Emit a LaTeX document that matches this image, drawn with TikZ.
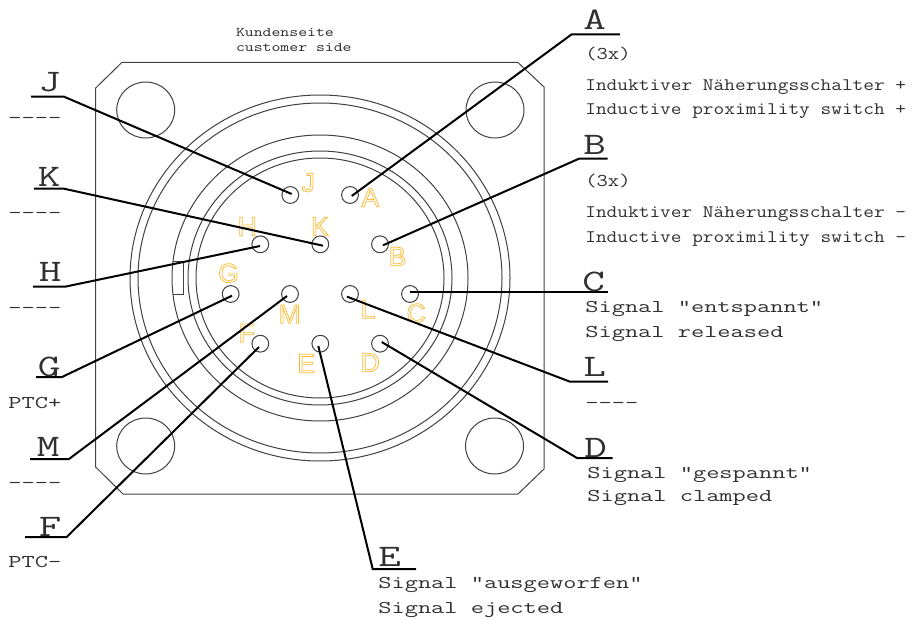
\documentclass[tikz,border=0pt]{standalone}
\usepackage{fontspec}
\newfontfamily\pinfont{Liberation Sans}
\newcommand{\outl}[1]{\special{pdf:code 1 Tr 0.55 w}#1\special{pdf:code 0 Tr 1 w}}
\definecolor{linegray}{HTML}{404040}
\definecolor{txtgray}{HTML}{303030}
\definecolor{pinorange}{HTML}{FFB830}
\tikzset{
  plate/.style={draw=linegray,line width=0.75pt},
  pinnode/.style={circle,draw=linegray,line width=0.75pt,minimum size=12.6pt,inner sep=0pt},
  leader/.style={draw=black,line width=1.5pt},
  biglet/.style={anchor=base west,inner sep=0pt,text=txtgray,font=\ttfamily\fontsize{23.5}{23.5}\selectfont,xscale=1.4,transform shape},
  sigtxt/.style={anchor=base west,inner sep=0pt,text=txtgray,font=\ttfamily\fontsize{13.5}{13.5}\selectfont,xscale=1.425,transform shape},
  indtxt/.style={anchor=base west,inner sep=0pt,text=txtgray,font=\ttfamily\fontsize{13.2}{13.2}\selectfont,xscale=1.18,transform shape},
  multxt/.style={anchor=base west,inner sep=0pt,text=txtgray,font=\ttfamily\fontsize{13.5}{13.5}\selectfont,xscale=1.22,transform shape},
  smalltxt/.style={anchor=base west,inner sep=0pt,text=txtgray,font=\ttfamily\fontsize{10}{10}\selectfont,xscale=1.27,transform shape},
  pinlet/.style={anchor=base,inner sep=0pt,text=pinorange,font=\pinfont\fontsize{20}{20}\selectfont},
}
\begin{document}
\begin{tikzpicture}[x=0.75pt,y=-0.75pt]
\useasboundingbox (0,0) rectangle (912,620);
% housing
\draw[plate] (122,62.3) -- (517.7,62.3) -- (544,87) -- (544,469) -- (518,494) -- (123,494) -- (95.7,467) -- (95.7,88) -- cycle;
\foreach \cx/\cy in {145.7/110,495/110,145.7/446,494.5/446}
  \draw[plate] (\cx,\cy) ellipse [x radius=29,y radius=28];
\foreach \rx/\ry in {190/183,182/175,148/143,132/127,124/120}
  \draw[plate] (320,278) ellipse [x radius=\rx,y radius=\ry];
\draw[plate] (172.7,261.7) -- (183.3,261.7) -- (183.3,294) -- (172.7,294);
% pins
\node[pinnode] (pJ) at (290.3,195) {};
\node[pinnode] (pA) at (350,195) {};
\node[pinnode] (pH) at (260.3,244.3) {};
\node[pinnode] (pK) at (320.3,244.3) {};
\node[pinnode] (pB) at (380,244.3) {};
\node[pinnode] (pG) at (230.7,294) {};
\node[pinnode] (pM) at (290,294) {};
\node[pinnode] (pL) at (350,294) {};
\node[pinnode] (pC) at (410,294) {};
\node[pinnode] (pF) at (260.3,343.7) {};
\node[pinnode] (pE) at (320.3,343.7) {};
\node[pinnode] (pD) at (380,343.7) {};
% pin letters
\node[pinlet] (lJ) at (308.2,191.7) {\outl{J}};
\node[pinlet] (lA) at (370.3,206.7) {\outl{A}};
\node[pinlet] (lH) at (247.2,235.7) {\outl{H}};
\node[pinlet] (lK) at (320,235.7) {\outl{K}};
\node[pinlet] (lB) at (397.5,265.7) {\outl{B}};
\node[pinlet] (lG) at (228.5,282.3) {\outl{G}};
\node[pinlet] (lM) at (289.6,323.3) {\outl{M}};
\node[pinlet] (lL) at (368,318.3) {\outl{L}};
\node[pinlet] (lC) at (416.2,322.3) {\outl{C}};
\node[pinlet] (lF) at (246.8,342.3) {\outl{F}};
\node[pinlet] (lE) at (306.2,372.7) {\outl{E}};
\node[pinlet] (lD) at (370.2,371.7) {\outl{D}};
% leader coordinates
\coordinate (kA) at (571.7,34.3); \coordinate (eA) at (620,34.3);
\coordinate (kB) at (579,158.7);  \coordinate (eB) at (607.7,158.7);
\coordinate (eC) at (608,292);
\coordinate (kL) at (570,381.7);  \coordinate (eL) at (608,381.7);
\coordinate (kD) at (577,458);    \coordinate (eD) at (612.7,458);
\coordinate (kE) at (372.7,569);  \coordinate (eE) at (416,569);
\coordinate (kF) at (66.7,537);   \coordinate (eF) at (25,537);
\coordinate (kM) at (69,459);     \coordinate (eM) at (30,459);
\coordinate (kG) at (62,377);     \coordinate (eG) at (36,377);
\coordinate (kH) at (65,286.7);   \coordinate (eH) at (33,286.7);
\coordinate (kK) at (64,188.7);   \coordinate (eK) at (34,188.7);
\coordinate (kJ) at (64,96.7);    \coordinate (eJ) at (31,96.7);
\draw[leader] ([shift={(1.7,1)}]pA.center) -- (kA) -- (eA);
\draw[leader] ([shift={(3,1)}]pB.center) -- (kB) -- (eB);
\draw[leader] (pC.center |- eC) -- (eC);
\draw[leader] ([shift={(1.7,-1.7)}]pD.center) -- (kD) -- (eD);
\draw[leader] ([shift={(-3,2.7)}]pL.center) -- (kL) -- (eL);
\draw[leader] ([shift={(-2,2.3)}]pE.center) -- (kE) -- (eE);
\draw[leader] ([shift={(-1.3,3.3)}]pF.center) -- (kF) -- (eF);
\draw[leader] ([shift={(-3,2)}]pM.center) -- (kM) -- (eM);
\draw[leader] ([shift={(1.3,1.7)}]pG.center) -- (kG) -- (eG);
\draw[leader] ([shift={(-0.3,1.7)}]pH.center) -- (kH) -- (eH);
\draw[leader] ([shift={(2.7,1.4)}]pK.center) -- (kK) -- (eK);
\draw[leader] ([shift={(1.4,-1)}]pJ.center) -- (kJ) -- (eJ);
% big letters
\node[biglet] (tA) at (583,29.3) {A};
\node[biglet] (tB) at (583,155) {B};
\node[biglet] (tC) at (582,291) {C};
\node[biglet] (tL) at (583,376.7) {L};
\node[biglet] (tD) at (584,457) {D};
\node[biglet] (tE) at (378,566.7) {E};
\node[biglet] (tJ) at (38,92) {J};
\node[biglet] (tK) at (37.5,186.7) {K};
\node[biglet] (tH) at (38.5,281.7) {H};
\node[biglet] (tG) at (37.5,376) {G};
\node[biglet] (tM) at (36.5,456.7) {M};
\node[biglet] (tF) at (38.5,536) {F};
% texts
\node[smalltxt] (k1) at (235.7,36.7) {Kundenseite};
\node[smalltxt] (k2) at (235.7,51.7) {customer side};
\node[multxt] (a0) at (585,60) {(3x)};
\node[indtxt] (a1) at (585,90.7) {Induktiver Näherungsschalter +};
\node[indtxt] (a2) at (585,115) {Inductive proximility switch +};
\node[multxt] (b0) at (585,186.7) {(3x)};
\node[indtxt] (b1) at (585,218) {Induktiver Näherungsschalter -};
\node[indtxt] (b2) at (585,242) {Inductive proximility switch -};
\node[sigtxt] (c1) at (585,312.7) {Signal "entspannt"};
\node[sigtxt] (c2) at (585,337.3) {Signal released};
\node[sigtxt] (l1) at (585,408.7) {----};
\node[sigtxt] (d1) at (587,478) {Signal "gespannt"};
\node[sigtxt] (d2) at (587,501.7) {Signal clamped};
\node[sigtxt] (e1) at (378,588) {Signal "ausgeworfen"};
\node[sigtxt] (e2) at (378,613) {Signal ejected};
\node[sigtxt] (j1) at (8,123.7) {----};
\node[sigtxt] (k3) at (8,218.7) {----};
\node[sigtxt] (h1) at (8,313.7) {----};
\node[sigtxt] (g1) at (8,408) {PTC+};
\node[sigtxt] (m1) at (8,488.7) {----};
\node[sigtxt] (f1) at (8,567) {PTC-};
\end{tikzpicture}
\end{document}
